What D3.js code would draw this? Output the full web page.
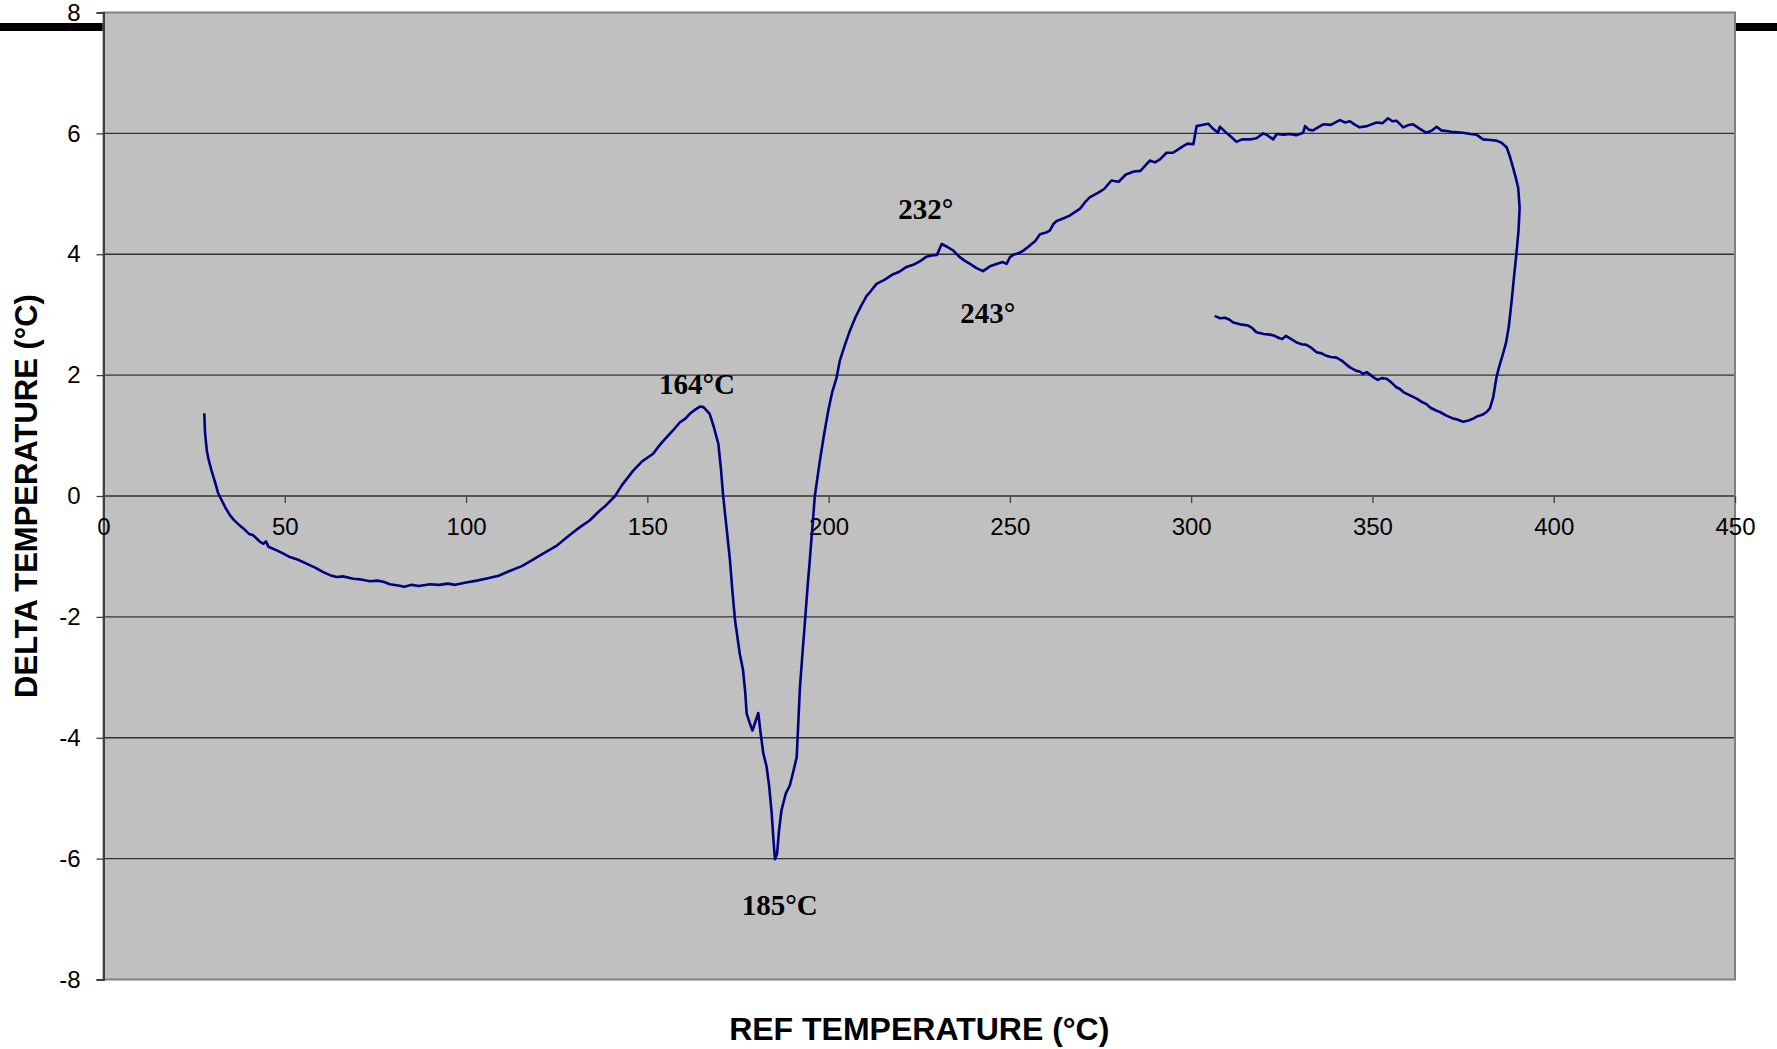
<!DOCTYPE html>
<html>
<head>
<meta charset="utf-8">
<script src="https://cdn.jsdelivr.net/npm/d3@7"></script>
<style>
  body { margin: 0; background: #fff; }
  svg { display: block; }
</style>
</head>
<body>
<div id="chart"></div>
<script>
// DTA trace: reference temperature (x) vs delta temperature (y), in recorded order
const refTemp = [
  27.8, 28.0, 28.5, 29.0, 29.8, 30.8, 31.6, 32.6, 33.7, 34.9, 36.0, 37.6, 39.0, 40.2, 41.3, 42.5, 43.2, 44.1, 44.8, 45.5,
  47.8, 49.5, 51.4, 53.5, 56.0, 58.5, 60.6, 62.5, 64.3, 66.0, 68.9, 71.0, 73.5, 75.5, 77.2, 79.0, 81.3, 83.0, 85.0, 87.0,
  90.0, 92.5, 95.0, 97.0, 100.0, 103.0, 106.0, 109.0, 112.0, 115.4, 118.0, 121.0, 124.8, 127.5, 130.0, 132.0, 134.0, 136.9, 138.5, 141.1,
  143.0, 146.1, 148.5, 151.6, 153.5, 155.3, 157.0, 159.0, 160.5, 161.7, 163.0, 164.5, 165.5, 167.2, 168.3, 169.6, 170.3, 170.9, 171.8, 172.8,
  173.5, 174.2, 175.5, 176.4, 177.0, 177.4, 178.2, 179.0, 180.6, 181.3, 182.0, 182.9, 183.6, 184.3, 184.8, 185.2, 185.8, 186.3, 187.0, 188.2,
  189.3, 190.3, 191.2, 191.6, 192.1, 192.8, 193.5, 194.2, 194.8, 196.2, 197.6, 198.7, 199.9, 201.0, 202.2, 203.1, 204.5, 205.9, 207.5, 209.0,
  210.5, 211.5, 213.2, 215.5, 217.8, 219.5, 221.5, 223.5, 225.6, 227.0, 228.4, 229.9, 231.2, 232.8, 234.4, 236.0, 237.6, 239.0, 240.8, 242.6,
  244.5, 246.3, 248.0, 249.1, 250.0, 250.9, 252.5, 253.7, 255.0, 256.0, 257.0, 258.3, 260.0, 261.0, 262.0, 262.9, 265.0, 266.5, 268.0, 269.3,
  271.0, 272.0, 274.4, 276.0, 278.0, 280.0, 282.0, 284.2, 286.0, 288.6, 290.0, 291.4, 293.2, 295.0, 297.8, 299.0, 300.6, 301.5, 303.0, 304.7,
  306.0, 307.4, 307.9, 309.5, 310.7, 312.5, 314.0, 316.2, 318.0, 319.9, 321.0, 322.6, 323.6, 325.5, 327.2, 329.0, 330.9, 331.4, 332.5, 333.6,
  335.0, 336.4, 338.5, 341.0, 342.5, 343.8, 345.0, 346.5, 348.5, 351.1, 352.8, 354.3, 355.5, 356.6, 358.5, 360.0, 361.2, 363.0, 364.9, 366.5,
  367.7, 369.0, 370.4, 372.5, 375.0, 377.0, 378.7, 380.5, 382.5, 384.2, 385.5, 387.0, 388.0, 388.8, 389.6, 390.2, 390.6, 390.3, 389.7, 389.0,
  388.4, 387.6, 386.9, 386.0, 385.0, 384.2, 383.3, 382.4, 381.5, 380.5, 379.0, 377.8, 376.5, 375.0, 373.2, 372.3, 370.4, 368.6, 367.7, 366.0,
  364.9, 363.5, 362.2, 360.5, 358.5, 357.6, 356.6, 355.2, 353.9, 352.5, 351.5, 350.6, 349.5, 348.4, 347.4, 346.5, 345.6, 344.0, 342.9, 341.5,
  340.1, 338.5, 337.3, 336.0, 334.6, 333.2, 331.8, 330.5, 329.1, 327.5, 326.1, 325.2, 324.4, 323.0, 321.7, 320.0, 318.0, 316.8, 315.7, 313.5,
  311.6, 310.5, 309.3, 308.0, 306.5
];
const deltaTemp = [
  1.37, 1.05, 0.75, 0.60, 0.42, 0.22, 0.05, -0.07, -0.20, -0.32, -0.40, -0.49, -0.56, -0.63, -0.65, -0.72, -0.76, -0.79, -0.75, -0.84,
  -0.90, -0.95, -1.01, -1.05, -1.12, -1.19, -1.26, -1.31, -1.34, -1.33, -1.37, -1.38, -1.41, -1.40, -1.42, -1.46, -1.48, -1.50, -1.47, -1.49,
  -1.46, -1.47, -1.45, -1.47, -1.43, -1.40, -1.36, -1.32, -1.24, -1.16, -1.07, -0.96, -0.83, -0.70, -0.58, -0.49, -0.41, -0.24, -0.16, 0.00,
  0.18, 0.42, 0.57, 0.70, 0.85, 0.97, 1.08, 1.22, 1.28, 1.36, 1.42, 1.48, 1.47, 1.36, 1.15, 0.86, 0.45, 0.01, -0.50, -1.07,
  -1.60, -2.06, -2.61, -2.88, -3.25, -3.60, -3.75, -3.88, -3.59, -3.95, -4.26, -4.48, -4.80, -5.25, -5.70, -6.01, -5.91, -5.55, -5.20, -4.92,
  -4.79, -4.55, -4.32, -3.80, -3.16, -2.60, -2.06, -1.50, -1.07, 0.00, 0.59, 1.00, 1.41, 1.72, 1.96, 2.24, 2.50, 2.74, 2.97, 3.15,
  3.31, 3.38, 3.51, 3.58, 3.67, 3.71, 3.79, 3.83, 3.90, 3.96, 3.98, 3.99, 4.17, 4.12, 4.06, 3.96, 3.89, 3.84, 3.77, 3.72,
  3.80, 3.84, 3.87, 3.84, 3.95, 3.99, 4.02, 4.06, 4.12, 4.17, 4.22, 4.33, 4.36, 4.39, 4.50, 4.55, 4.60, 4.64, 4.70, 4.75,
  4.88, 4.94, 5.02, 5.08, 5.22, 5.20, 5.32, 5.37, 5.38, 5.55, 5.52, 5.57, 5.68, 5.68, 5.79, 5.83, 5.82, 6.12, 6.14, 6.16,
  6.08, 6.01, 6.11, 6.02, 5.96, 5.86, 5.90, 5.90, 5.92, 6.00, 5.97, 5.90, 5.99, 5.98, 5.99, 5.97, 6.01, 6.12, 6.06, 6.05,
  6.10, 6.15, 6.14, 6.22, 6.18, 6.20, 6.15, 6.10, 6.12, 6.18, 6.17, 6.25, 6.20, 6.21, 6.10, 6.14, 6.15, 6.08, 6.01, 6.05,
  6.11, 6.05, 6.04, 6.02, 6.01, 5.99, 5.98, 5.90, 5.89, 5.88, 5.85, 5.77, 5.60, 5.43, 5.25, 5.10, 4.77, 4.40, 4.00, 3.60,
  3.23, 2.80, 2.55, 2.35, 2.15, 1.96, 1.63, 1.45, 1.39, 1.35, 1.32, 1.28, 1.25, 1.23, 1.27, 1.28, 1.33, 1.39, 1.41, 1.46,
  1.52, 1.56, 1.61, 1.66, 1.72, 1.77, 1.80, 1.88, 1.94, 1.95, 1.92, 1.95, 2.00, 2.05, 2.02, 2.06, 2.07, 2.12, 2.17, 2.24,
  2.29, 2.30, 2.32, 2.36, 2.38, 2.45, 2.50, 2.51, 2.54, 2.60, 2.65, 2.60, 2.61, 2.65, 2.67, 2.68, 2.71, 2.78, 2.82, 2.84,
  2.87, 2.92, 2.95, 2.94, 2.98
];

const xTicks = [0, 50, 100, 150, 200, 250, 300, 350, 400, 450];
const yTicks = [-8, -6, -4, -2, 0, 2, 4, 6, 8];

// peak labels, anchored at data coordinates
const noteText = ["164°C", "185°C", "232°", "243°"];
const noteRef = [163.7, 186.5, 226.8, 243.9];
const noteDelta = [1.69, -6.93, 4.59, 2.87];

const W = 1777, H = 1049;
const margin = {top: 12.5, right: 42, bottom: 69.5, left: 103.5};
const width = W - margin.left - margin.right;
const height = H - margin.top - margin.bottom;

const svg = d3.select("#chart")
  .append("svg")
  .attr("width", W)
  .attr("height", H);

// black rule across the top of the slide
svg.append("rect").attr("x", 0).attr("y", 23).attr("width", margin.left).attr("height", 8).attr("fill", "#000");
svg.append("rect").attr("x", margin.left + width + 1).attr("y", 23).attr("width", W).attr("height", 8).attr("fill", "#000");

const g = svg.append("g")
  .attr("transform", `translate(${margin.left},${margin.top})`);

const x = d3.scaleLinear().domain([0, 450]).range([0, width]);
const y = d3.scaleLinear().domain([-8, 8]).range([height, 0]);

// plot area
g.append("rect")
  .attr("width", width)
  .attr("height", height)
  .attr("fill", "#c0c0c0");

// gridlines
g.selectAll(".grid")
  .data(yTicks.filter(d => d > -8 && d < 8))
  .join("line")
  .attr("class", "grid")
  .attr("x1", 0)
  .attr("x2", width)
  .attr("y1", d => y(d))
  .attr("y2", d => y(d))
  .attr("stroke", "#333")
  .attr("stroke-width", 1.3);

// border
g.append("rect")
  .attr("width", width)
  .attr("height", height)
  .attr("fill", "none")
  .attr("stroke", "#808080")
  .attr("stroke-width", 2);

// Y axis
const yAxis = g.append("g")
  .call(d3.axisLeft(y).tickValues(yTicks).tickSize(7).tickPadding(16).tickFormat(d => String(d)));
yAxis.select(".domain").attr("stroke", "#404040").attr("stroke-width", 2);
yAxis.selectAll(".tick line").attr("stroke", "#404040").attr("stroke-width", 1.3);

// X axis sits on the zero line
const xAxis = g.append("g")
  .attr("transform", `translate(0,${y(0)})`)
  .call(d3.axisBottom(x).tickValues(xTicks).tickSize(7).tickPadding(15).tickFormat(d => String(d)));
xAxis.select(".domain").remove();
xAxis.selectAll(".tick line").attr("stroke", "#404040").attr("stroke-width", 1.3);

svg.selectAll(".tick text")
  .attr("font-family", "'Liberation Sans', Arial, sans-serif")
  .attr("font-size", 24)
  .attr("fill", "#000");

// curve
const line = d3.line()
  .x((d, i) => x(refTemp[i]))
  .y((d, i) => y(deltaTemp[i]));

g.append("path")
  .datum(refTemp)
  .attr("d", line)
  .attr("fill", "none")
  .attr("stroke", "#000080")
  .attr("stroke-width", 2.6)
  .attr("stroke-linejoin", "round");

// annotations
g.selectAll(".note")
  .data(noteText)
  .join("text")
  .attr("class", "note")
  .attr("x", (d, i) => x(noteRef[i]))
  .attr("y", (d, i) => y(noteDelta[i]))
  .attr("text-anchor", "middle")
  .attr("font-family", "'Liberation Serif', 'Times New Roman', serif")
  .attr("font-weight", "bold")
  .attr("font-size", 29)
  .text(d => d);

// axis titles
svg.append("text")
  .attr("x", margin.left + width / 2)
  .attr("y", 1040)
  .attr("text-anchor", "middle")
  .attr("font-family", "'Liberation Sans', Arial, sans-serif")
  .attr("font-weight", "bold")
  .attr("font-size", 32)
  .text("REF TEMPERATURE (°C)");

svg.append("text")
  .attr("transform", `translate(37,${margin.top + height / 2}) rotate(-90)`)
  .attr("text-anchor", "middle")
  .attr("font-family", "'Liberation Sans', Arial, sans-serif")
  .attr("font-weight", "bold")
  .attr("font-size", 31)
  .text("DELTA TEMPERATURE (°C)");
</script>
</body>
</html>
